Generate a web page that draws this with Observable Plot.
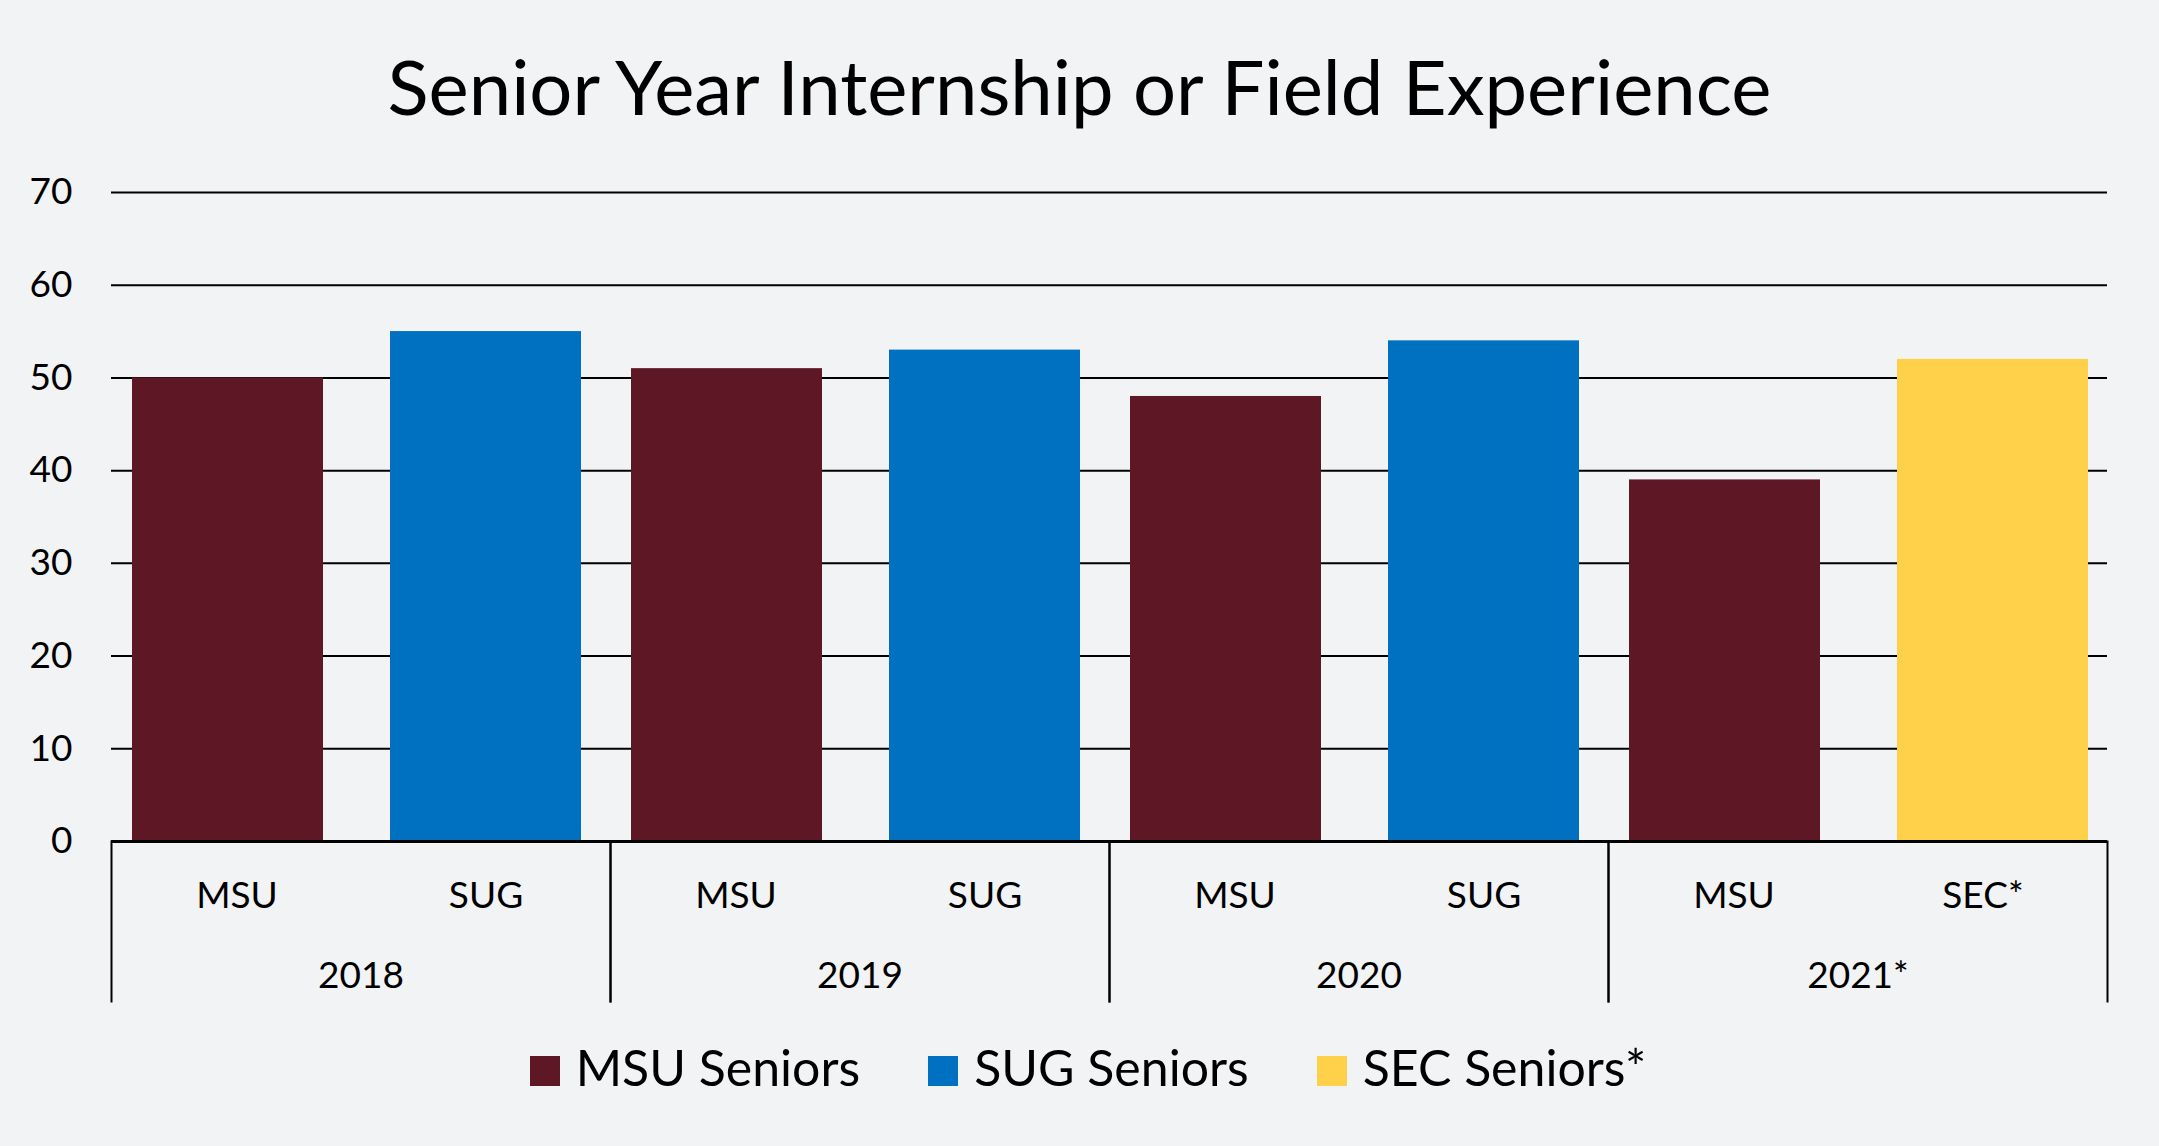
<!DOCTYPE html>
<html><head><meta charset="utf-8">
<script src="https://cdn.jsdelivr.net/npm/d3@7"></script>
<script src="https://cdn.jsdelivr.net/npm/@observablehq/plot@0.6"></script>
<style>
html,body{margin:0;padding:0;background:#F2F3F5;width:2159px;height:1146px;overflow:hidden;font-family:Lato, sans-serif;color:#000;}
#title{position:absolute;left:0;width:2159px;top:48px;text-align:center;font-size:76px;line-height:1;white-space:nowrap;}
#chart{position:absolute;left:0;top:140px;}
#legend{position:absolute;left:0;width:2159px;top:1042px;text-align:center;font-size:50px;line-height:1;white-space:nowrap;padding-left:17px;box-sizing:border-box;}
.item{display:inline-block;margin:0 34px;}
.sw{display:inline-block;width:30px;height:30px;margin-right:16px;vertical-align:baseline;}
</style></head><body>
<div id="title">Senior Year Internship or Field Experience</div>
<div id="chart"></div>
<div id="legend"></div>
<script>
const years = ["2018", "2019", "2020", "2021*"];
const msuValues = [50, 51, 48, 39];
const compLabels = ["SUG", "SUG", "SUG", "SEC*"];
const compValues = [55, 53, 54, 52];
const seriesNames = ["MSU Seniors", "SUG Seniors", "SEC Seniors*"];
const seriesColors = ["#5D1725", "#0070C0", "#FFD04A"];
const yTicks = [0, 10, 20, 30, 40, 50, 60, 70];
const slots = ["MSU", "Comparison"];

const rows = [];
years.forEach((yr, i) => {
  rows.push({year: yr, slot: "MSU", label: "MSU", series: "MSU Seniors", value: msuValues[i]});
  rows.push({year: yr, slot: "Comparison", label: compLabels[i],
    series: compLabels[i] === "SUG" ? "SUG Seniors" : "SEC Seniors*", value: compValues[i]});
});

const H = 880, MT = 52, MB = 179;
const plotH = H - MT - MB;
const common = {fx: "year", x: "slot", y: "value", fill: "series"};
const chart = Plot.plot({
  width: 2159, height: H, marginTop: MT, marginBottom: MB, marginLeft: 110, marginRight: 51,
  fx: {domain: years, padding: 0, axis: null},
  x: {domain: slots, padding: 0, axis: null},
  y: {domain: [0, 70], axis: null},
  color: {domain: seriesNames, range: seriesColors},
  style: {background: "transparent", fontFamily: "Lato, sans-serif", color: "#000", overflow: "visible"},
  marks: [
    Plot.ruleY(yTicks.filter(t => t > 0), {stroke: "#000", strokeWidth: 2}),
    Plot.barY(rows.filter(d => d.series === "MSU Seniors"), {...common, insetLeft: 20, insetRight: 38}),
    Plot.barY(rows.filter(d => d.series === "SUG Seniors"), {...common, insetLeft: 29, insetRight: 29}),
    Plot.barY(rows.filter(d => d.series === "SEC Seniors*"), {...common, insetLeft: 39, insetRight: 19}),
    Plot.ruleY([0], {stroke: "#000", strokeWidth: 3}),
    Plot.axisY({ticks: yTicks, tickSize: 0, tickPadding: 39, fontSize: 37, anchor: "left", label: null, tickFormat: d => String(d)}),
    Plot.frame({anchor: "left", insetTop: plotH, insetBottom: -160, stroke: "#000", strokeWidth: 2}),
    Plot.frame({anchor: "right", insetTop: plotH, insetBottom: -160, stroke: "#000", strokeWidth: 2}),
    Plot.text(rows, {fx: "year", x: "slot", text: "label", frameAnchor: "bottom", lineAnchor: "bottom", dy: 66, fontSize: 37}),
    Plot.text(years, {fx: d => d, text: d => d, frameAnchor: "bottom", lineAnchor: "bottom", dy: 146, fontSize: 37})
  ]
});
document.getElementById("chart").appendChild(chart);

const legend = document.getElementById("legend");
seriesNames.forEach((name, i) => {
  const item = document.createElement("span");
  item.className = "item";
  const sw = document.createElement("span");
  sw.className = "sw";
  sw.style.background = seriesColors[i];
  item.appendChild(sw);
  item.appendChild(document.createTextNode(name));
  legend.appendChild(item);
});
</script>
</body></html>
